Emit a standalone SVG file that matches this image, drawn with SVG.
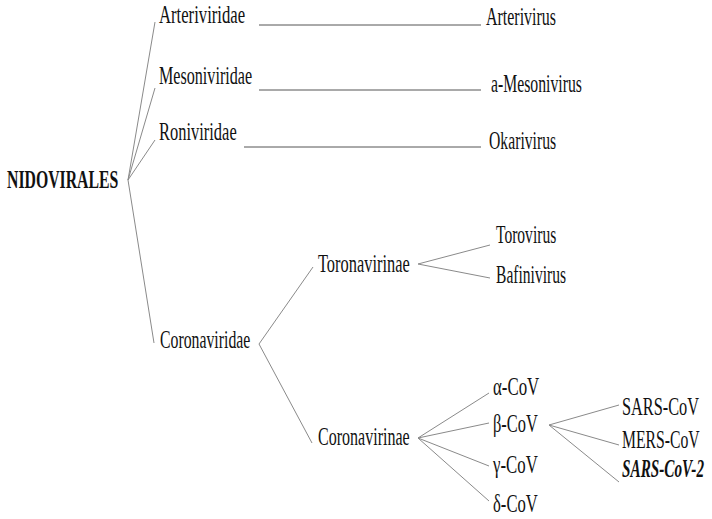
<svg xmlns="http://www.w3.org/2000/svg" width="712" height="519" viewBox="0 0 712 519">
<style>
text{font-family:"Liberation Serif","Times New Roman",serif;font-size:25px;fill:#111}
.b{font-weight:bold}
.bi{font-weight:bold;font-style:italic}
.c line{stroke:#8a8a8a;stroke-width:1}
.c line.h{stroke:#555}
</style>
<rect width="712" height="519" fill="#fff"/>
<g class="c" id="connectors">
<line x1="128" y1="180" x2="155" y2="22"/>
<line x1="128" y1="180" x2="155" y2="88"/>
<line x1="128" y1="180" x2="155" y2="140"/>
<line x1="128" y1="180" x2="154" y2="343"/>
<line class="h" x1="259" y1="25" x2="481" y2="25"/>
<line class="h" x1="259" y1="90" x2="481" y2="90"/>
<line class="h" x1="244" y1="147" x2="481" y2="147"/>
<line x1="259" y1="344" x2="313" y2="267"/>
<line x1="259" y1="344" x2="312" y2="443"/>
<line x1="418" y1="264" x2="490" y2="245"/>
<line x1="418" y1="264" x2="490" y2="278"/>
<line x1="418" y1="438" x2="489" y2="393"/>
<line x1="418" y1="438" x2="489" y2="423"/>
<line x1="418" y1="438" x2="489" y2="466"/>
<line x1="418" y1="438" x2="489" y2="501"/>
<line x1="549" y1="425" x2="619" y2="405"/>
<line x1="549" y1="425" x2="619" y2="445"/>
<line x1="549" y1="425" x2="619" y2="482"/>
</g>
<g id="nidovirales"><text class="b" transform="translate(7 188) scale(0.7 1)" textLength="159" lengthAdjust="spacingAndGlyphs">NIDOVIRALES</text></g>
<g id="arteriviridae"><text transform="translate(159 23) scale(0.7 1)" textLength="123" lengthAdjust="spacingAndGlyphs">Arteriviridae</text></g>
<g id="mesoniviridae"><text transform="translate(159 84) scale(0.7 1)" textLength="133" lengthAdjust="spacingAndGlyphs">Mesoniviridae</text></g>
<g id="roniviridae"><text transform="translate(159 140) scale(0.7 1)" textLength="111" lengthAdjust="spacingAndGlyphs">Roniviridae</text></g>
<g id="coronaviridae"><text transform="translate(160 348) scale(0.7 1)" textLength="129" lengthAdjust="spacingAndGlyphs">Coronaviridae</text></g>
<g id="arterivirus"><text transform="translate(486 25) scale(0.7 1)" textLength="100" lengthAdjust="spacingAndGlyphs">Arterivirus</text></g>
<g id="mesonivirus"><text transform="translate(491 92) scale(0.7 1)" textLength="130" lengthAdjust="spacingAndGlyphs">a-Mesonivirus</text></g>
<g id="okarivirus"><text transform="translate(489 149) scale(0.7 1)" textLength="96" lengthAdjust="spacingAndGlyphs">Okarivirus</text></g>
<g id="toronavirinae"><text transform="translate(318 272) scale(0.7 1)" textLength="131" lengthAdjust="spacingAndGlyphs">Toronavirinae</text></g>
<g id="torovirus"><text transform="translate(496 243) scale(0.7 1)" textLength="86" lengthAdjust="spacingAndGlyphs">Torovirus</text></g>
<g id="bafinivirus"><text transform="translate(496 283) scale(0.7 1)" textLength="100" lengthAdjust="spacingAndGlyphs">Bafinivirus</text></g>
<g id="coronavirinae"><text transform="translate(318 445) scale(0.7 1)" textLength="131" lengthAdjust="spacingAndGlyphs">Coronavirinae</text></g>
<g id="alpha"><text transform="translate(493 395) scale(0.7 1)" textLength="66" lengthAdjust="spacingAndGlyphs">α-CoV</text></g>
<g id="beta"><text transform="translate(493 432) scale(0.7 1)" textLength="64" lengthAdjust="spacingAndGlyphs">β-CoV</text></g>
<g id="gamma"><text transform="translate(493 473) scale(0.7 1)" textLength="64" lengthAdjust="spacingAndGlyphs">γ-CoV</text></g>
<g id="delta"><text transform="translate(493 512) scale(0.7 1)" textLength="64" lengthAdjust="spacingAndGlyphs">δ-CoV</text></g>
<g id="sars"><text transform="translate(622 415) scale(0.7 1)" textLength="110" lengthAdjust="spacingAndGlyphs">SARS-CoV</text></g>
<g id="mers"><text transform="translate(622 448) scale(0.7 1)" textLength="111" lengthAdjust="spacingAndGlyphs">MERS-CoV</text></g>
<g id="sars2"><text class="bi" text-anchor="end" transform="translate(704 477) scale(0.7 1)" textLength="117" lengthAdjust="spacingAndGlyphs">SARS-CoV-2</text></g>
</svg>
